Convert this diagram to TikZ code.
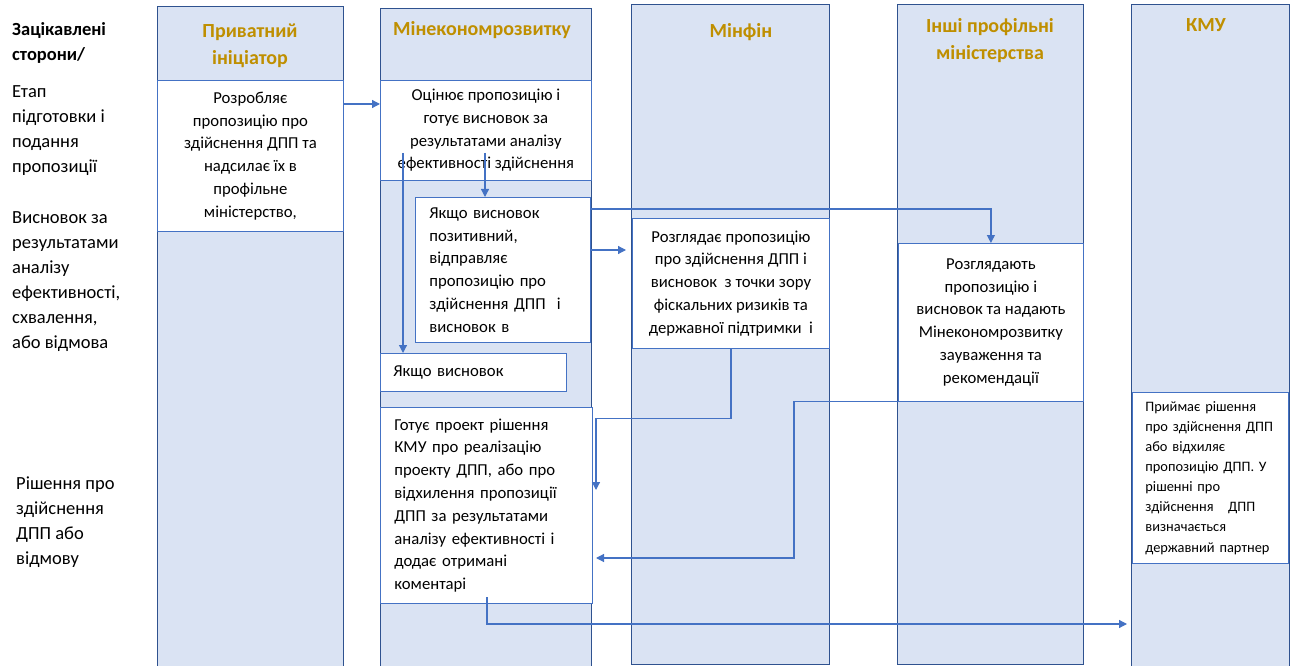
\documentclass[tikz,border=0pt]{standalone}
\usepackage{fontspec}
\setmainfont{Carlito}
\usetikzlibrary{arrows.meta}
\definecolor{lanefill}{HTML}{DAE3F3}
\definecolor{laneline}{HTML}{2F528F}
\definecolor{flowblue}{HTML}{4472C4}
\definecolor{headgold}{HTML}{BF8F00}

\begin{document}
\begin{tikzpicture}[x=1pt,y=-1pt,
	lane/.style={draw=laneline, fill=lanefill, line width=1.4pt, anchor=north west, inner sep=0pt},
	box/.style={draw=flowblue, fill=white, line width=0.8pt, anchor=north west, inner sep=0pt, font=\fontsize{16.7}{22.8}\selectfont},
	head/.style={text=headgold, font=\fontsize{20}{27}\selectfont\bfseries, align=center, inner sep=0pt},
	stage/.style={anchor=west, align=left, inner sep=0pt, font=\fontsize{18.5}{25}\selectfont},
	flow/.style={draw=flowblue, line width=1.2pt, -{Triangle[length=8pt,width=8pt]}}]
			%%%%% START %%%%%
			\useasboundingbox (0,0) rectangle (1291,666);
			
			% lanes
			\node[lane, minimum width=186, minimum height=674] (laneinit) at (157,6) {};
			\node[lane, minimum width=211, minimum height=672] (laneecon) at (380,8) {};
			\node[lane, minimum width=198, minimum height=660] (lanefin) at (631,4) {};
			\node[lane, minimum width=186, minimum height=660] (laneother) at (897,4) {};
			\node[lane, minimum width=158, minimum height=676] (lanekmu) at (1131,4) {};
			
			\node[head] (hdinit) at (250,46) {Приватний\\ініціатор};
			\node[head] (hdecon) at (482,30) {Мінекономрозвитку};
			\node[head] (hdfin) at (741,32) {Мінфін};
			\node[head] (hdother) at (990,41) {Інші профільні\\міністерства};
			\node[head] (hdkmu) at (1206,25) {КМУ};
			
			% stages
			\node[stage, font=\fontsize{18.5}{25}\selectfont\bfseries] (stparty) at (12,42.5) {Зацікавлені\\сторони/};
			\node[stage] (stprep) at (12,130.5) {Етап\\підготовки і\\подання\\пропозиції};
			\node[stage] (stconcl) at (12,281.5) {Висновок за\\результатами\\аналізу\\ефективності,\\схвалення,\\або відмова};
			\node[stage] (stdecide) at (16,522.5) {Рішення про\\здійснення\\ДПП або\\відмову};
			
			% boxes
			\node[box, minimum width=186, minimum height=151, align=center] (initbox) at (157,80)
				{Розробляє\\пропозицію про\\здійснення ДПП та\\надсилає їх в\\профільне\\міністерство,};
			\node[box, minimum width=211, minimum height=100, align=center] (econbox) at (380,80)
				{Оцінює пропозицію і\\готує висновок за\\результатами аналізу\\ефективності здійснення};
			\node[box, minimum height=145, text width=147, inner xsep=14, align=left] (posbox) at (415,197)
				{Якщо висновок\\позитивний,\\відправляє\\пропозицію про\\здійснення ДПП\ \ і\\висновок в};
			\node[box, minimum height=38, text width=160, inner xsep=13, align=left] (negbox) at (380,353)
				{Якщо висновок};
			\node[box, minimum height=196, text width=184, inner xsep=14, align=left] (prepbox) at (380,407)
				{Готує проект рішення\\КМУ про реалізацію\\проекту ДПП, або про\\відхилення пропозиції\\ДПП за результатами\\аналізу ефективності і\\додає отримані\\коментарі};
			\node[box, minimum width=197, minimum height=130, align=center] (finbox) at (632,218)
				{Розглядає пропозицію\\про здійснення ДПП і\\висновок\ \ з точки зору\\фіскальних ризиків та\\державної підтримки\ \ і};
			\node[box, minimum width=185, minimum height=158, align=center] (otherbox) at (898,243)
				{Розглядають\\пропозицію і\\висновок та надають\\Мінекономрозвитку\\зауваження та\\рекомендації};
			\node[box, minimum height=171, text width=134, inner xsep=11, align=left, font=\fontsize{14.4}{20.1}\selectfont] (kmubox) at (1132,392)
				{\hspace*{2pt}Приймає рішення\\\hspace*{2pt}про здійснення ДПП\\\hspace*{2pt}або відхиляє\\\hspace*{2pt}пропозицію ДПП. У\\\hspace*{2pt}рішенні про\\\hspace*{2pt}здійснення\ \ \ ДПП\\\hspace*{2pt}визначається\\\hspace*{2pt}державний партнер};
			
			% flows
			\coordinate (evalA) at (403,153);
			\coordinate (evalB) at (485,153);
			\coordinate (finIn) at (596,490);
			\coordinate (otherIn) at (596,558);
			\coordinate (prepOut) at (487,597);
			\coordinate (kmuIn) at (1127,624);
			
			\draw[flow] ([yshift=-24pt]initbox.north east) -- ([yshift=-24pt]econbox.north west);
			\draw[flow] (evalB) -- (evalB |- posbox.north);
			\draw[flow] (evalA) -- (evalA |- negbox.north);
			\draw[flow] ([yshift=-12pt]posbox.north east) -| (otherbox.north);
			\draw[flow] ([yshift=-53pt]posbox.north east) -- ([xshift=-6pt,yshift=-32pt]finbox.north west);
			\draw[flow] (finbox.south) -- ++(0,70) -| (finIn);
			\draw[flow] (otherbox.south) -- ++(-197,0) |- (otherIn);
			\draw[flow] (prepOut) |- (kmuIn);
			%%%%% END %%%%%
\end{tikzpicture}
\end{document}
